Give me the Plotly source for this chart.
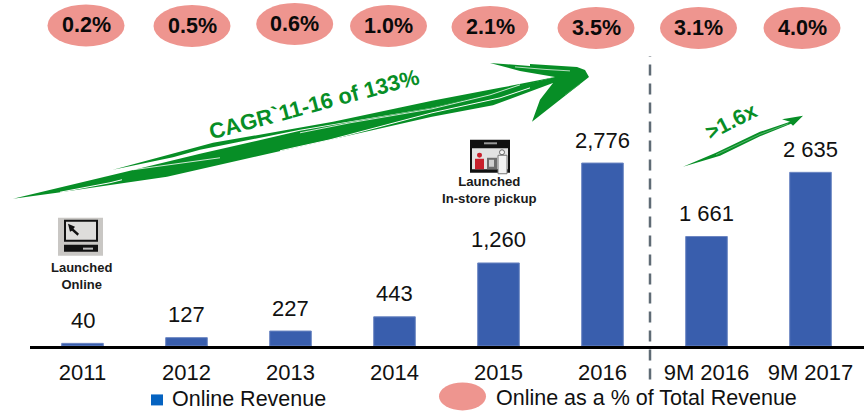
import plotly.graph_objects as go

# ---- data ----
categories = ["2011", "2012", "2013", "2014", "2015", "2016", "9M 2016", "9M 2017"]
online_revenue = [40, 127, 227, 443, 1260, 2776, 1661, 2635]
value_labels = ["40", "127", "227", "443", "1,260", "2,776", "1 661", "2 635"]
online_share = ["0.2%", "0.5%", "0.6%", "1.0%", "2.1%", "3.5%", "3.1%", "4.0%"]

# ---- layout constants (pixels) ----
W, H = 864, 411
PL, PB = 30, 346.5          # plot area left / baseline
YMAX = 5250
GREEN = "#078E26"
PINK = "#EE958F"
BAR = "#395EAD"
FONT = "Liberation Sans, Arial, sans-serif"
oval_cx = [86, 192, 294.7, 388.5, 490, 596, 698.5, 802]
oval_cy = [25.5, 26, 24, 26, 27, 28, 28, 28]
OVAL_W, OVAL_H = 77, 42


def px(x):
    return (x - PL) / (W - PL)


def py(y):
    return (PB - y) / PB


def poly(points, fill, line=None, width=0):
    d = "M" + " L".join(f"{px(x):.5f},{py(y):.5f}" for x, y in points) + " Z"
    return dict(type="path", xref="paper", yref="paper", path=d, fillcolor=fill,
                line=dict(color=line or fill, width=width), layer="above")


def polyline(points, color="white", width=1):
    d = "M" + " L".join(f"{px(x):.5f},{py(y):.5f}" for x, y in points)
    return dict(type="path", xref="paper", yref="paper", path=d,
                line=dict(color=color, width=width), layer="above")


def box(x0, y0, x1, y1, fill, kind="rect", line=None, width=0):
    return dict(type=kind, xref="paper", yref="paper", x0=px(x0), x1=px(x1),
                y0=py(y1), y1=py(y0), fillcolor=fill,
                line=dict(color=line or fill, width=width), layer="above")


def label(x, y, text, size, color="#111111", bold=False, angle=0, anchor="center"):
    return dict(xref="paper", yref="paper", x=px(x), y=py(y), text=f"<b>{text}</b>" if bold else text,
                showarrow=False, xanchor=anchor, yanchor="middle", textangle=angle,
                font=dict(family=FONT, size=size, color=color))


shapes = []
annotations = []

# ovals with the online share
for cx, cy, pct in zip(oval_cx, oval_cy, online_share):
    shapes.append(box(cx - OVAL_W / 2, cy - OVAL_H / 2, cx + OVAL_W / 2, cy + OVAL_H / 2, PINK, "circle"))
    annotations.append(label(cx, cy, pct, 21.5, "#0a0a0a", True))

# big sketched arrow
shapes += [
    poly([(113, 170), (213, 143), (333, 122), (432, 101), (500, 88), (555, 77),
          (500, 92), (432, 108), (300, 130), (200, 150), (173, 157.5)], GREEN),
    poly([(13, 199), (130, 171), (200, 154), (300, 131), (432, 108), (555, 77),
          (520, 71), (490, 63), (530, 66), (530, 64), (577, 67), (585, 70), (589, 77),
          (532, 122), (540, 100), (553, 83), (493, 105.5), (432, 117), (317, 143),
          (167, 177), (57, 193)], GREEN),
    polyline([(60, 192.5), (110, 183), (122, 180)], "white", 1),
    polyline([(133, 170), (220, 158)], "white", 0.8),
    polyline([(280, 151), (330, 140), (432, 113), (500, 98), (530, 88)], "white", 1),
    polyline([(300, 133), (350, 123), (432, 109), (490, 95), (520, 85)], "white", 0.8),
    polyline([(515, 67), (545, 69.5), (570, 71)], "white", 0.7),
    polyline([(565, 95), (580, 84)], "#3aa552", 0.7),
]

# small arrow
shapes.append(poly([(683, 167), (716, 153), (760, 132), (790, 122), (782, 119.5), (803, 116),
                    (793, 126), (791, 124), (760, 136.5), (720, 156)], GREEN))
shapes.append(polyline([(716, 155), (760, 134.5), (788, 124)], "#8ccb9a", 0.6))

# dashed divider
shapes.append(dict(type="line", xref="paper", yref="paper", x0=px(650), x1=px(650), y0=py(380), y1=py(56),
                   line=dict(color="#5F6B75", width=2.5, dash="11px,8px"), layer="above"))

# monitor icon
shapes += [
    box(58, 218, 103, 256, "#C9C7C4"),
    box(65, 221, 97, 241, "#DEDDDB", line="#111111", width=2),
    poly([(68, 224), (75, 227), (73.5, 229), (79, 234), (77.5, 236), (72, 231), (70, 232)], "#111111"),
    box(64, 245, 98, 252, "#111111"),
    box(83, 248, 93, 250, "#BBBBBB"),
]

# in-store icon
shapes += [
    box(470, 140, 510, 173, "#111111"),
    box(472, 148.5, 508, 169.5, "#E2E2E2"),
    box(484, 142.5, 497, 144.5, "#999999"),
    box(477, 153, 482, 158, "#C8202C", "circle"),
    box(475, 159, 484, 169.5, "#C8202C"),
    box(487, 158, 497, 169.5, "#6E6E6E"),
    box(489, 160, 494, 167, "#D0D0D0"),
    box(499.5, 150, 504.5, 155, "#F2F2F2", "circle", line="#666666", width=1),
    box(498, 155.5, 507, 174, "#F2F2F2", line="#777777", width=1),
]

# legend
shapes.append(box(151, 395, 163, 406, "#0563C1"))
shapes.append(box(439, 383, 486, 411, PINK, "circle"))
annotations += [
    label(169.5, 400, "Online Revenue", 21.5, anchor="left"),
    label(494, 398.5, "Online as a % of Total Revenue", 21.5, anchor="left"),
    label(313.5, 105, "CAGR`11-16 of 133%", 22, GREEN, True, -15),
    label(730.5, 122, "&gt;1.6x", 21.5, GREEN, True, -27),
    label(81, 276.5, "Launched<br>Online", 13, "#1a1a1a", True),
    label(489.5, 190.5, "Launched<br>In-store pickup", 13.2, "#1a1a1a", True),
]

# value labels tied to the bars (category axis positions are given by index)
for i, (v, t) in enumerate(zip(online_revenue, value_labels)):
    annotations.append(dict(x=i, y=v, xref="x", yref="y", text=t, showarrow=False, yanchor="bottom",
                            yshift=8.5, font=dict(family=FONT, size=22, color="#111111")))

fig = go.Figure(go.Bar(x=categories, y=online_revenue, width=0.4,
                       marker=dict(color=BAR, line=dict(color="#6C86C2", width=1)),
                       showlegend=False, hoverinfo="skip"))

fig.update_layout(
    width=W, height=H, margin=dict(l=PL, r=0, t=0, b=H - PB),
    autosize=False,
    paper_bgcolor="white", plot_bgcolor="white",
    shapes=shapes, annotations=annotations, showlegend=False,
    xaxis=dict(type="category", categoryorder="array", categoryarray=categories,
               range=[(PL - 82.5) / 104, (W - 82.5) / 104],
               showline=True, linecolor="#000000", linewidth=3, showgrid=False, zeroline=False,
               ticks="outside", ticklen=5, tickcolor="rgba(0,0,0,0)", automargin=False,
               tickfont=dict(family=FONT, size=22, color="#111111")),
    yaxis=dict(range=[0, YMAX], visible=False, automargin=False),
)

fig.write_html("out.html", config=dict(displayModeBar=False),
               post_script="document.body.style.margin='0';document.documentElement.style.overflow='hidden';")
